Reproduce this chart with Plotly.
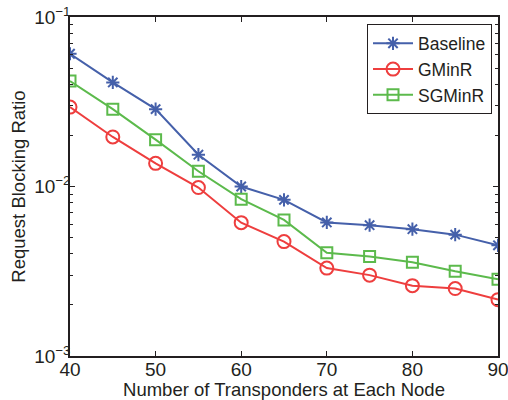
import plotly.graph_objects as go

x_vals = [40, 45, 50, 55, 60, 65, 70, 75, 80, 85, 90]
baseline = [0.0607, 0.0411, 0.0286, 0.0154, 0.0100, 0.00834, 0.00614, 0.00591, 0.00560, 0.00520, 0.00450]
gminr = [0.0294, 0.0196, 0.0137, 0.00986, 0.00612, 0.00473, 0.00330, 0.00300, 0.00260, 0.00250, 0.00215]
sgminr = [0.0419, 0.0286, 0.0189, 0.0123, 0.00842, 0.00635, 0.00407, 0.00386, 0.00357, 0.00316, 0.00284]

x_ticks = [40, 50, 60, 70, 80, 90]
y_ticks = [0.001, 0.01, 0.1]
y_ticktext = ["10<sup>−3</sup>", "10<sup>−2</sup>", "10<sup>−1</sup>"]

axis_color = "#231f20"
font_family = "Liberation Sans"

fig = go.Figure()
fig.add_trace(go.Scatter(x=x_vals, y=baseline, name="Baseline", mode="lines+markers",
                         line=dict(color="#4560AA", width=2),
                         marker=dict(symbol="asterisk-open", size=11, line=dict(color="#4560AA", width=2))))
fig.add_trace(go.Scatter(x=x_vals, y=gminr, name="GMinR", mode="lines+markers",
                         line=dict(color="#EE3E3E", width=2),
                         marker=dict(symbol="circle-open", size=13, line=dict(color="#EE3E3E", width=2))))
fig.add_trace(go.Scatter(x=x_vals, y=sgminr, name="SGMinR", mode="lines+markers",
                         line=dict(color="#5CBA4C", width=2),
                         marker=dict(symbol="square-open", size=11, line=dict(color="#5CBA4C", width=2))))

fig.update_layout(
    width=508, height=400,
    margin=dict(l=70, r=10, t=17, b=44),
    paper_bgcolor="white", plot_bgcolor="white",
    font=dict(family=font_family, size=18, color="#231f20"),
    showlegend=True,
    legend=dict(x=0.986, y=0.978, xanchor="right", yanchor="top",
                bordercolor=axis_color, borderwidth=1, bgcolor="white",
                font=dict(size=17.5), tracegroupgap=0, itemwidth=40),
)
fig.update_xaxes(range=[40, 90], tickvals=x_ticks, showgrid=False, zeroline=False,
                 automargin=False, ticklabeloverflow="allow",
                 showline=True, linecolor=axis_color, linewidth=1.5, mirror="ticks",
                 ticks="inside", ticklen=5, tickcolor=axis_color,
                 tickfont=dict(size=19), ticklabelstandoff=-5,
                 title=dict(text="Number of Transponders at Each Node", font=dict(size=18.5), standoff=3))
fig.update_yaxes(type="log", range=[-3, -1], tickvals=y_ticks, ticktext=y_ticktext,
                 automargin=False, ticklabeloverflow="allow",
                 showgrid=False, zeroline=False,
                 showline=True, linecolor=axis_color, linewidth=1.5, mirror="ticks",
                 ticks="inside", ticklen=5, tickcolor=axis_color,
                 minor=dict(ticks="inside", ticklen=3, tickcolor=axis_color, showgrid=False,
                            tickvals=[m * 10 ** e for e in (-3, -2) for m in range(2, 10)]),
                 tickfont=dict(size=19), ticklabelstandoff=-6,
                 title=dict(text="Request Blocking Ratio", font=dict(size=18.5), standoff=4))

# remove the browser's default 8px body margin so the figure fills the window
fig.write_html("out.html",
               config={"displayModeBar": False},
               post_script="document.body.style.margin='0';document.body.style.overflow='hidden';")
